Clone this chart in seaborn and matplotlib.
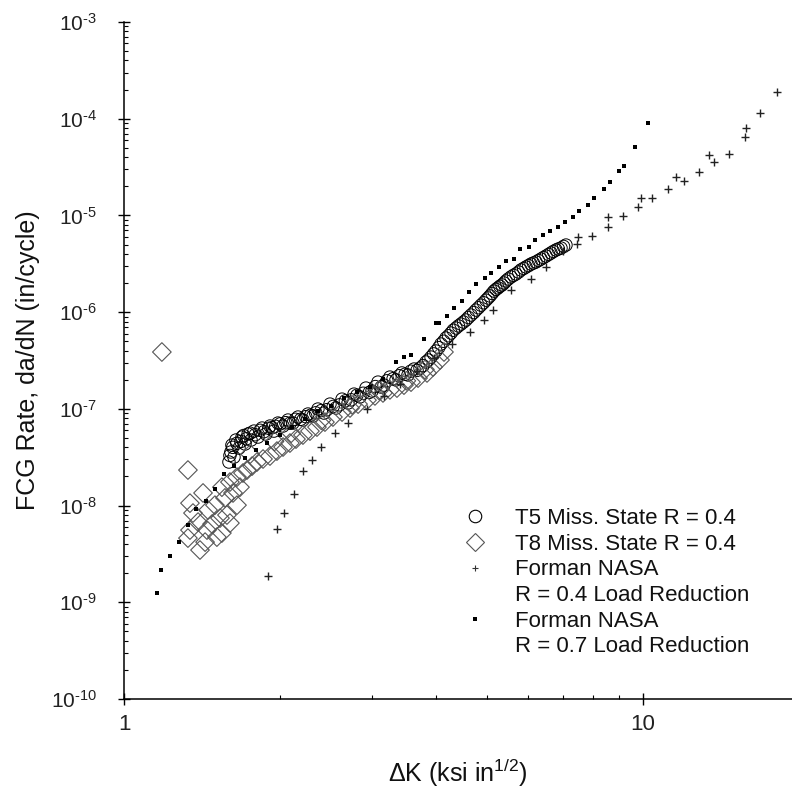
import math
import matplotlib
matplotlib.use("Agg")
import matplotlib.pyplot as plt
from matplotlib.lines import Line2D
from matplotlib.ticker import FixedLocator, FuncFormatter, NullFormatter
import seaborn as sns

# ---------------- data ----------------
t5_dk = [1.593, 1.607, 1.614, 1.629, 1.643, 1.666, 1.688, 1.711, 1.734, 1.757,
         1.780, 1.812, 1.845, 1.877, 1.911, 1.945, 1.980, 2.025, 2.070, 2.116,
         2.164, 2.212, 2.262, 2.313, 2.364, 2.428, 2.494, 2.561, 2.631, 2.702,
         2.775, 2.850, 2.926, 3.005, 3.086, 3.169, 3.254, 3.342, 3.432, 3.525,
         3.621, 3.718, 3.819, 3.905, 3.992, 4.081, 4.173, 4.267, 4.363, 4.460,
         4.560, 4.663, 4.767, 4.874, 4.983, 5.073, 5.164, 5.256, 5.350, 5.446,
         5.567, 5.692, 5.820, 5.951, 6.084, 6.220, 6.361, 6.504, 6.650, 6.799,
         6.951, 7.106,
         1.60, 1.62, 1.65, 1.68, 1.70, 1.72, 1.75, 1.79, 1.83, 1.86,
         1.90, 1.93, 1.96, 2.00, 2.05, 2.09, 2.14, 2.19, 2.24, 2.29,
         2.34, 2.40, 2.46, 2.53, 2.60, 2.67, 2.74, 2.81, 2.89, 2.97,
         3.05, 3.13, 3.21, 3.30, 3.39, 3.48, 3.57, 3.67, 3.77, 3.86,
         3.95, 4.04, 4.13, 4.22, 4.31, 4.41, 4.51, 4.61, 4.72, 4.82,
         4.93, 5.03, 5.12, 5.21, 5.30, 5.40, 5.50, 5.63, 5.76, 5.89,
         6.02, 6.15, 6.29, 6.43, 6.58, 6.72, 6.87, 7.03]
t5_rate = [2.82e-8, 3.58e-8, 4.22e-8, 3.17e-8, 4.76e-8, 3.93e-8, 5.11e-8, 4.33e-8, 5.49e-8, 4.76e-8,
           5.89e-8, 5.11e-8, 6.33e-8, 5.49e-8, 6.64e-8, 5.89e-8, 7.13e-8, 6.64e-8, 7.66e-8, 7.13e-8,
           8.23e-8, 7.66e-8, 8.84e-8, 8.43e-8, 9.95e-8, 9.05e-8, 1.12e-7, 1.02e-7, 1.26e-7, 1.15e-7,
           1.42e-7, 1.33e-7, 1.64e-7, 1.53e-7, 1.89e-7, 1.76e-7, 2.13e-7, 1.99e-7, 2.35e-7, 2.24e-7,
           2.58e-7, 2.64e-7, 3.05e-7, 3.43e-7, 3.96e-7, 4.68e-7, 5.40e-7, 6.08e-7, 6.85e-7, 7.53e-7,
           8.29e-7, 9.33e-7, 1.05e-6, 1.18e-6, 1.33e-6, 1.47e-6, 1.65e-6, 1.78e-6, 1.91e-6, 2.10e-6,
           2.31e-6, 2.48e-6, 2.73e-6, 2.93e-6, 3.14e-6, 3.30e-6, 3.54e-6, 3.80e-6, 4.09e-6, 4.39e-6,
           4.60e-6, 4.94e-6,
           3.3e-8, 4.0e-8, 4.4e-8, 4.6e-8, 5.3e-8, 4.9e-8, 5.6e-8, 5.4e-8, 6.0e-8, 5.8e-8,
           6.3e-8, 6.4e-8, 6.6e-8, 7.0e-8, 7.2e-8, 7.1e-8, 7.8e-8, 7.8e-8, 8.3e-8, 8.6e-8,
           9.1e-8, 9.6e-8, 9.8e-8, 1.06e-7, 1.10e-7, 1.21e-7, 1.24e-7, 1.38e-7, 1.45e-7, 1.48e-7,
           1.70e-7, 1.68e-7, 1.95e-7, 2.05e-7, 2.20e-7, 2.28e-7, 2.45e-7, 2.50e-7, 2.80e-7, 3.20e-7,
           3.70e-7, 4.30e-7, 5.0e-7, 5.7e-7, 6.5e-7, 7.2e-7, 7.9e-7, 8.8e-7, 9.9e-7, 1.11e-6,
           1.25e-6, 1.40e-6, 1.56e-6, 1.72e-6, 1.85e-6, 2.0e-6, 2.2e-6, 2.4e-6, 2.6e-6, 2.83e-6,
           3.03e-6, 3.22e-6, 3.42e-6, 3.67e-6, 3.95e-6, 4.24e-6, 4.5e-6, 4.78e-6]

t8_dk = [1.183, 1.328, 1.340, 1.358, 1.328, 1.340, 1.401, 1.420, 1.452, 1.445,
         1.478, 1.510, 1.531, 1.544, 1.579, 1.600, 1.600, 1.651, 1.651, 1.695,
         1.389, 1.433, 1.497, 1.565, 1.622, 1.673, 1.544, 1.726, 1.765, 1.804,
         1.853, 1.911, 1.971, 2.025, 2.088, 2.145, 2.212, 2.282, 2.354, 2.439,
         2.527, 2.631, 2.726, 2.825, 2.939, 3.045, 3.155, 3.254, 3.357, 3.463,
         3.573, 3.686, 3.836, 3.940, 4.064, 4.136,
         1.75, 1.95, 2.10, 2.40, 2.75, 3.10, 3.50, 3.80]
t8_rate = [3.87e-7, 2.33e-8, 1.06e-8, 8.37e-9, 4.61e-9, 5.58e-9, 3.47e-9, 1.35e-8, 8.98e-9, 5.58e-9,
           6.44e-9, 4.72e-9, 7.42e-9, 5.20e-9, 7.98e-9, 6.59e-9, 1.75e-8, 1.01e-8, 1.97e-8, 2.17e-8,
           6.75e-9, 4.19e-9, 1.01e-8, 1.20e-8, 1.35e-8, 1.55e-8, 1.55e-8, 2.33e-8, 2.56e-8, 2.82e-8,
           3.03e-8, 3.25e-8, 3.66e-8, 4.03e-8, 4.43e-8, 4.87e-8, 5.36e-8, 5.89e-8, 6.48e-8, 7.30e-8,
           8.23e-8, 9.27e-8, 1.02e-7, 1.12e-7, 1.23e-7, 1.36e-7, 1.46e-7, 1.57e-7, 1.64e-7, 1.76e-7,
           1.89e-7, 2.08e-7, 2.35e-7, 2.71e-7, 3.20e-7, 3.87e-7,
           3.4e-8, 4.6e-8, 5.6e-8, 7.6e-8, 1.10e-7, 1.55e-7, 1.95e-7, 2.55e-7]

nasa04_dk = [1.895, 1.972, 2.034, 2.126, 2.212, 2.303, 2.397, 2.55, 2.70, 2.94,
             3.17, 3.40, 3.67, 3.96, 4.29, 4.64, 4.94, 5.14, 5.57, 6.08,
             6.50, 7.01, 7.46, 7.50, 7.97, 8.56, 8.56, 9.15, 9.78, 9.91,
             10.41, 11.17, 11.58, 11.99, 12.82, 13.40, 13.70, 14.65, 15.73, 15.79,
             16.81, 18.12]
nasa04_rate = [1.87e-9, 5.71e-9, 8.36e-9, 1.31e-8, 2.27e-8, 2.96e-8, 4.03e-8, 5.62e-8, 7.13e-8, 9.95e-8,
               1.36e-7, 1.80e-7, 2.46e-7, 3.35e-7, 4.68e-7, 6.22e-7, 8.28e-7, 1.05e-6, 1.69e-6, 2.20e-6,
               2.92e-6, 4.28e-6, 5.06e-6, 5.98e-6, 6.12e-6, 7.59e-6, 9.62e-6, 9.86e-6, 1.22e-5, 1.51e-5,
               1.51e-5, 1.88e-5, 2.49e-5, 2.27e-5, 2.81e-5, 4.21e-5, 3.57e-5, 4.31e-5, 6.47e-5, 8.01e-5,
               1.15e-4, 1.89e-4]

nasa07_dk = [1.158, 1.178, 1.226, 1.276, 1.328, 1.376, 1.436, 1.497, 1.558, 1.63,
             1.71, 1.80, 1.89, 2.00, 2.11, 2.23, 2.37, 2.51, 2.65, 2.81,
             2.98, 3.16, 3.34, 3.46, 3.57, 3.78, 3.99, 4.05, 4.19, 4.32,
             4.48, 4.62, 4.77, 4.96, 5.09, 5.28, 5.45, 5.64, 5.79, 6.03,
             6.19, 6.42, 6.62, 6.86, 7.07, 7.33, 7.53, 7.83, 8.05, 8.41,
             8.64, 8.99, 9.19, 9.66, 10.22]
nasa07_rate = [1.245e-9, 2.15e-9, 3.04e-9, 4.2e-9, 6.29e-9, 9.2e-9, 1.11e-8, 1.48e-8, 2.12e-8, 2.56e-8,
               3.10e-8, 3.75e-8, 4.43e-8, 5.36e-8, 6.48e-8, 7.85e-8, 9.5e-8, 1.07e-7, 1.29e-7, 1.50e-7,
               1.70e-7, 2.05e-7, 3.05e-7, 3.43e-7, 3.6e-7, 5.27e-7, 7.7e-7, 7.7e-7, 9.1e-7, 1.10e-6,
               1.30e-6, 1.61e-6, 1.95e-6, 2.25e-6, 2.54e-6, 2.92e-6, 3.37e-6, 3.54e-6, 4.50e-6, 4.71e-6,
               5.57e-6, 6.27e-6, 6.9e-6, 7.6e-6, 8.55e-6, 9.6e-6, 1.11e-5, 1.28e-5, 1.51e-5, 1.88e-5,
               2.21e-5, 2.88e-5, 3.24e-5, 5.09e-5, 9.03e-5]

x_ticks = [1, 10]
y_ticks = [1e-10, 1e-9, 1e-8, 1e-7, 1e-6, 1e-5, 1e-4, 1e-3]
legend_labels = ["T5 Miss. State R = 0.4", "T8 Miss. State R = 0.4",
                 "Forman NASA", "R = 0.4 Load Reduction",
                 "Forman NASA", "R = 0.7 Load Reduction"]
x_label = "\u0394K (ksi in$^{1/2}$)"
y_label = "FCG Rate, da/dN (in/cycle)"

# ---------------- style ----------------
sns.set_theme(style="white")
plt.rcParams["font.family"] = ["Liberation Sans", "DejaVu Sans"]
plt.rcParams["mathtext.fontset"] = "custom"
plt.rcParams["mathtext.rm"] = "Liberation Sans"
plt.rcParams["mathtext.it"] = "Liberation Sans:italic"
plt.rcParams["mathtext.bf"] = "Liberation Sans:bold"
plt.rcParams["mathtext.sf"] = "Liberation Sans"
plt.rcParams["mathtext.default"] = "regular"

fig = plt.figure(figsize=(7.92, 7.92), dpi=100, facecolor="white")
ax = fig.add_axes([124 / 792, 93 / 792, 668 / 792, 677 / 792])
ax.set_facecolor("white")
ax.set_xscale("log")
ax.set_yscale("log")

sns.scatterplot(x=t5_dk, y=t5_rate, marker="o", s=80, facecolor="none",
                edgecolor="black", linewidth=0.7, ax=ax, zorder=3)
sns.scatterplot(x=t8_dk, y=t8_rate, marker="D", s=90, facecolor="none",
                edgecolor="#555555", linewidth=0.8, ax=ax, zorder=3)
sns.scatterplot(x=nasa04_dk, y=nasa04_rate, marker="+", s=40, color="#222222",
                linewidth=1.0, ax=ax, zorder=4)
sns.scatterplot(x=nasa07_dk, y=nasa07_rate, marker="s", s=12, color="black",
                linewidth=0, ax=ax, zorder=5)

ax.set_xlim(1, 19.37)
ax.set_ylim(1e-10, 1e-3)

for side in ["top", "right"]:
    ax.spines[side].set_visible(False)
for side in ["left", "bottom"]:
    ax.spines[side].set_color("black")
    ax.spines[side].set_linewidth(1.1)

minor_x = [m * d for d in (1, 10) for m in range(2, 10) if m * d < 19.37]
minor_y = [m * d for d in y_ticks[:-1] for m in range(2, 10)]
ax.xaxis.set_major_locator(FixedLocator(x_ticks))
ax.xaxis.set_major_formatter(FuncFormatter(lambda v, p: f"{v:g}"))
ax.xaxis.set_minor_locator(FixedLocator(minor_x))
ax.xaxis.set_minor_formatter(NullFormatter())
ax.yaxis.set_major_locator(FixedLocator(y_ticks))
ax.yaxis.set_major_formatter(FuncFormatter(
    lambda v, p: "10$^{\\text{-%d}}$" % round(-math.log10(v))))
ax.yaxis.set_minor_locator(FixedLocator(minor_y))
ax.yaxis.set_minor_formatter(NullFormatter())

ax.tick_params(which="major", direction="inout", length=9, width=1.0, color="black")
ax.tick_params(which="minor", direction="in", length=3, width=0.8, color="black")
ax.tick_params(axis="y", which="major", labelsize=15, pad=15, labelcolor="#222222")
ax.tick_params(axis="x", which="major", labelsize=16, pad=6, labelcolor="#222222")
ax.tick_params(left=True, bottom=True, which="both")

ax.set_xlabel(x_label, fontsize=18, color="#111111")
ax.set_ylabel(y_label, fontsize=18, color="#111111")
ax.xaxis.set_label_coords(0.5, -0.085)
ax.yaxis.set_label_coords(-0.125, 0.5)

handles = [
    Line2D([], [], linestyle="none", marker="o", markersize=9, markerfacecolor="none",
           markeredgecolor="black", markeredgewidth=0.8),
    Line2D([], [], linestyle="none", marker="D", markersize=9, markerfacecolor="none",
           markeredgecolor="#555555", markeredgewidth=0.8),
    Line2D([], [], linestyle="none", marker="+", markersize=5, markeredgecolor="#333333",
           markeredgewidth=0.8),
    Line2D([], [], linestyle="none"),
    Line2D([], [], linestyle="none", marker="s", markersize=3, markerfacecolor="black",
           markeredgewidth=0),
    Line2D([], [], linestyle="none"),
]
leg = fig.legend(handles, legend_labels, loc="upper left",
                 bbox_to_anchor=(463.9 / 792, 1 - 508 / 792), frameon=False,
                 fontsize=16, handlelength=1.0, handletextpad=1.30,
                 labelspacing=0.21, borderpad=0, borderaxespad=0)
for t in leg.get_texts():
    t.set_color("#111111")

fig.savefig("out.png", dpi=100, facecolor="white")
